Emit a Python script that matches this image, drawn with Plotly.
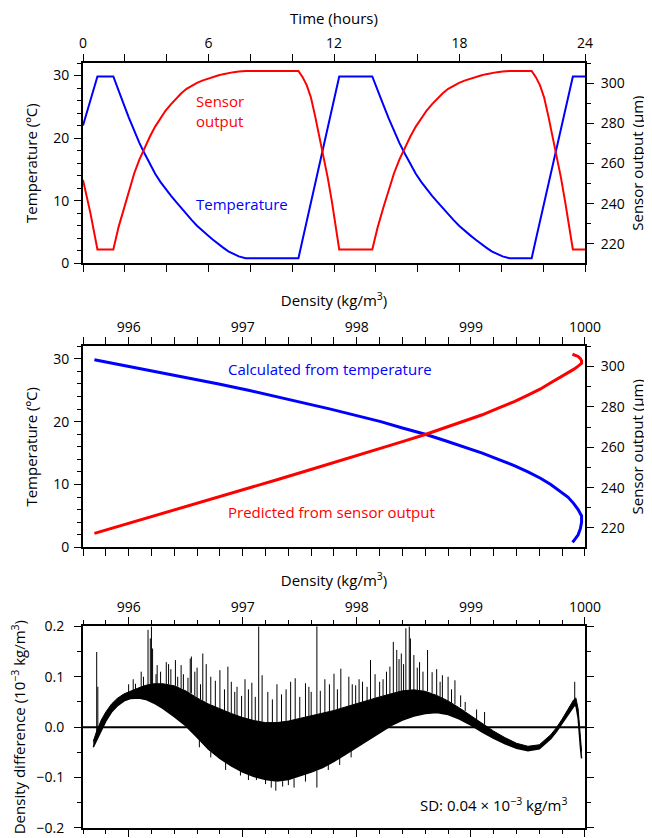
import plotly.graph_objects as go

# --- Panel 1: time series ---
time_hours = [0, 0.35, 0.69, 1.45,
              1.70, 1.95, 2.20, 2.45, 2.70, 2.95, 3.20, 3.45, 3.70, 3.95, 4.20, 4.45, 4.70,
              4.95, 5.20, 5.45, 5.70, 5.95, 6.20, 6.45, 6.70, 6.95, 7.20, 7.45, 7.77,
              10.30, 10.50, 10.70, 10.90, 11.10, 11.30, 11.50, 11.70, 11.90, 12.10, 12.25,
              13.83, 14.09, 14.35, 14.61, 14.87, 15.13, 15.39, 15.65, 15.91, 16.17, 16.43,
              16.68, 16.94, 17.20, 17.46, 17.72, 17.98, 18.24, 18.50, 18.76, 19.02, 19.28,
              19.54, 19.80, 20.06, 20.39,
              21.45, 21.65, 21.85, 22.05, 22.25, 22.45, 22.65, 22.85, 23.05, 23.25, 23.42, 24.0]

temperature_c = [22.0, 25.9, 29.85, 29.85,
                 27.5, 25.4, 23.2, 21.1, 19.2, 17.5, 15.8, 14.3, 13.0, 11.8, 10.8, 9.8, 8.8,
                 7.8, 6.9, 6.0, 5.2, 4.5, 3.8, 3.1, 2.5, 1.9, 1.5, 1.1, 0.8,
                 0.8, 3.8, 6.8, 9.7, 12.7, 15.7, 18.7, 21.7, 24.6, 27.6, 29.85,
                 29.85, 27.5, 25.4, 23.2, 21.1, 19.2, 17.5, 15.8, 14.3, 13.0, 11.8,
                 10.8, 9.8, 8.8, 7.8, 6.9, 6.0, 5.2, 4.5, 3.8, 3.1, 2.5,
                 1.9, 1.5, 1.1, 0.8,
                 0.8, 3.8, 6.8, 9.7, 12.7, 15.7, 18.7, 21.7, 24.6, 27.6, 29.85, 29.85]

sensor_um = [251.9, 235.6, 217.3, 217.3,
             228.4, 237.8, 247.1, 255.2, 262.1, 267.9, 273.5, 278.4, 282.6, 286.4, 289.5, 292.5, 295.0,
             297.2, 298.8, 300.2, 301.3, 302.2, 303.0, 303.8, 304.5, 305.1, 305.5, 305.8, 306.1,
             306.1, 303.0, 298.9, 292.8, 283.5, 273.8, 263.9, 253.0, 241.1, 227.8, 217.3,
             217.3, 228.4, 237.8, 247.1, 255.2, 262.1, 267.9, 273.5, 278.4, 282.6, 286.4,
             289.5, 292.5, 295.0, 297.2, 298.8, 300.2, 301.3, 302.2, 303.0, 303.8, 304.5,
             305.1, 305.5, 305.8, 306.1,
             306.1, 303.0, 298.9, 292.8, 283.5, 273.8, 263.9, 253.0, 241.1, 227.8, 217.3, 217.3]

# --- Panel 2: temperature / sensor output against density ---
calc_temp = [29.85, 29, 28, 27, 26, 25, 24, 23, 22, 21, 20, 19, 18, 17, 16, 15, 14, 13,
             12, 11, 10, 9, 8, 7, 6, 5, 4, 3, 2, 1, 0.8]
calc_density = [995.70, 995.94, 996.24, 996.52, 996.79, 997.05, 997.30, 997.54, 997.77,
                997.99, 998.21, 998.40, 998.60, 998.77, 998.94, 999.10, 999.24, 999.38,
                999.50, 999.61, 999.70, 999.78, 999.85, 999.90, 999.94, 999.97, 999.97,
                999.96, 999.94, 999.90, 999.89]
pred_density = [995.70, 995.94, 996.24, 996.52, 996.79, 997.05, 997.30, 997.54, 997.77,
                997.99, 998.21, 998.40, 998.60, 998.77, 998.94, 999.10, 999.24, 999.38,
                999.50, 999.61, 999.70, 999.78, 999.85, 999.90, 999.94, 999.97, 999.97,
                999.96, 999.94, 999.90, 999.89]
pred_sensor = [217.3, 221.3, 226.1, 230.6, 235.2, 239.6, 243.9, 248.0, 251.9, 255.6, 259.3,
               262.8, 266.3, 269.6, 272.8, 276.1, 279.4, 282.6, 285.8, 288.9, 292.0, 294.5,
               296.8, 298.6, 300.2, 301.6, 302.8, 303.9, 305.0, 305.9, 306.1]

# --- Panel 3: density difference band (lower / upper edge of the dense trace) ---
band_density = [995.69, 995.72, 995.76, 995.80, 995.85, 995.90, 995.96, 996.02, 996.09,
                996.15, 996.22, 996.30, 996.40, 996.50, 996.60, 996.70, 996.80, 996.90,
                997.00, 997.10, 997.20, 997.30, 997.40, 997.50, 997.60, 997.70, 997.80,
                997.90, 998.00, 998.10, 998.20, 998.30, 998.40, 998.50, 998.60, 998.70,
                998.80, 998.90, 999.00, 999.10, 999.20, 999.30, 999.40, 999.50, 999.60,
                999.70, 999.75, 999.80, 999.85, 999.90, 999.92, 999.94, 999.96, 999.97]
band_low = [-0.040, -0.026, -0.006, 0.012, 0.030, 0.042, 0.052, 0.057, 0.058,
            0.055, 0.048, 0.037, 0.021, 0.003, -0.020, -0.044, -0.062, -0.077,
            -0.089, -0.098, -0.104, -0.107, -0.104, -0.097, -0.089, -0.080, -0.068,
            -0.054, -0.040, -0.026, -0.011, 0.003, 0.014, 0.022, 0.027, 0.029,
            0.025, 0.016, 0.004, -0.010, -0.022, -0.033, -0.042, -0.047, -0.043,
            -0.023, -0.009, 0.007, 0.024, 0.041, 0.044, 0.018, -0.040, -0.062]
band_high = [-0.028, -0.008, 0.014, 0.030, 0.046, 0.057, 0.066, 0.072, 0.078,
             0.083, 0.086, 0.086, 0.082, 0.072, 0.058, 0.046, 0.036, 0.027,
             0.019, 0.013, 0.009, 0.009, 0.012, 0.017, 0.022, 0.027, 0.033,
             0.040, 0.047, 0.053, 0.060, 0.066, 0.072, 0.074, 0.071, 0.063,
             0.052, 0.038, 0.023, 0.007, -0.008, -0.021, -0.032, -0.038, -0.035,
             -0.015, -0.001, 0.016, 0.034, 0.054, 0.058, 0.036, -0.020, -0.048]

# isolated spikes sticking out of the band
spike_density = [995.72, 995.73, 996.00, 996.04, 996.06, 996.11, 996.13, 996.17, 996.19,
                 996.20, 996.21, 996.24, 996.25, 996.28, 996.33, 996.35, 996.37, 996.41,
                 996.43, 996.46, 996.48, 996.52, 996.54, 996.55, 996.58, 996.60, 996.63,
                 996.65, 996.68, 996.72, 996.76, 996.80, 996.84, 996.87, 996.90, 996.93,
                 996.95, 996.99, 997.02, 997.05, 997.08, 997.11, 997.14, 997.17, 997.22,
                 997.26, 997.30, 997.34, 997.38, 997.42, 997.46, 997.50, 997.55, 997.58,
                 997.60, 997.65, 997.68, 997.72, 997.76, 997.80, 997.83, 997.86, 997.93,
                 997.96, 997.99, 998.02, 998.05, 998.09, 998.12, 998.16, 998.20, 998.23,
                 998.26, 998.29, 998.32, 998.35, 998.37, 998.39, 998.41, 998.43, 998.46,
                 998.47, 998.50, 998.53, 998.55, 998.58, 998.62, 998.66, 998.70, 998.73,
                 998.75, 998.80, 998.83, 998.86, 998.91, 998.95, 999.05, 999.12, 999.91,
                 996.62, 996.72, 996.85, 996.98, 997.05, 997.12, 997.20, 997.25, 997.29,
                 997.35, 997.40, 997.45, 997.55, 997.65, 997.75, 997.85, 997.95]
spike_base = [-0.020, -0.010, 0.068, 0.070, 0.071, 0.076, 0.078, 0.080, 0.082,
              0.082, 0.083, 0.085, 0.085, 0.086, 0.085, 0.085, 0.084, 0.082,
              0.080, 0.077, 0.075, 0.070, 0.068, 0.067, 0.062, 0.058, 0.055,
              0.053, 0.050, 0.045, 0.040, 0.036, 0.032, 0.029, 0.027, 0.024,
              0.022, 0.019, 0.018, 0.016, 0.014, 0.013, 0.012, 0.011, 0.009,
              0.009, 0.009, 0.010, 0.011, 0.012, 0.014, 0.017, 0.019, 0.021,
              0.022, 0.024, 0.026, 0.028, 0.031, 0.033, 0.035, 0.037, 0.042,
              0.044, 0.046, 0.048, 0.050, 0.052, 0.054, 0.057, 0.060, 0.062,
              0.064, 0.065, 0.066, 0.068, 0.069, 0.071, 0.071, 0.072, 0.073,
              0.073, 0.074, 0.073, 0.073, 0.072, 0.071, 0.068, 0.063, 0.060,
              0.057, 0.052, 0.048, 0.045, 0.040, 0.032, 0.015, 0.005, 0.050,
              -0.025, -0.048, -0.070, -0.086, -0.094, -0.098, -0.104, -0.106, -0.108,
              -0.107, -0.104, -0.102, -0.093, -0.086, -0.075, -0.061, -0.047]
spike_tip = [0.149, 0.080, 0.085, 0.095, 0.086, 0.110, 0.100, 0.193, 0.176,
             0.200, 0.156, 0.105, 0.123, 0.110, 0.129, 0.125, 0.115, 0.133,
             0.100, 0.123, 0.105, 0.098, 0.136, 0.140, 0.110, 0.118, 0.085,
             0.146, 0.125, 0.100, 0.092, 0.113, 0.075, 0.120, 0.090, 0.070,
             0.080, 0.062, 0.095, 0.075, 0.088, 0.060, 0.200, 0.103, 0.070,
             0.055, 0.085, 0.065, 0.075, 0.090, 0.097, 0.060, 0.087, 0.080,
             0.070, 0.200, 0.072, 0.095, 0.085, 0.106, 0.075, 0.116, 0.100,
             0.085, 0.083, 0.095, 0.090, 0.080, 0.133, 0.105, 0.090, 0.095,
             0.110, 0.120, 0.169, 0.153, 0.135, 0.146, 0.125, 0.196, 0.200,
             0.176, 0.143, 0.118, 0.129, 0.110, 0.153, 0.109, 0.115, 0.090,
             0.103, 0.100, 0.075, 0.093, 0.063, 0.050, 0.035, 0.030, 0.090,
             -0.040, -0.060, -0.085, -0.096, -0.105, -0.105, -0.113, -0.120, -0.126,
             -0.118, -0.115, -0.120, -0.108, -0.120, -0.085, -0.075, -0.060]

BLUE = '#0000ff'
RED = '#ff0000'
FONT = 'Open Sans'

fig = go.Figure()

# panel 1
fig.add_trace(go.Scatter(x=time_hours, y=temperature_c, mode='lines',
                         line=dict(color=BLUE, width=2), xaxis='x', yaxis='y'))
fig.add_trace(go.Scatter(x=time_hours, y=sensor_um, mode='lines',
                         line=dict(color=RED, width=2), xaxis='x', yaxis='y4'))

# panel 2
fig.add_trace(go.Scatter(x=calc_density, y=calc_temp, mode='lines',
                         line=dict(color=BLUE, width=3), xaxis='x2', yaxis='y2'))
fig.add_trace(go.Scatter(x=pred_density, y=pred_sensor, mode='lines',
                         line=dict(color=RED, width=3), xaxis='x2', yaxis='y5'))

# panel 3
fig.add_trace(go.Scatter(x=band_density, y=band_low, mode='lines',
                         line=dict(color='black', width=1.5), xaxis='x3', yaxis='y3'))
fig.add_trace(go.Scatter(x=band_density, y=band_high, mode='lines', fill='tonexty',
                         fillcolor='black', line=dict(color='black', width=1),
                         xaxis='x3', yaxis='y3'))
sx, sy = [], []
for d, b, t in zip(spike_density, spike_base, spike_tip):
    sx += [d, d, None]
    sy += [b, t, None]
fig.add_trace(go.Scatter(x=sx, y=sy, mode='lines', line=dict(color='black', width=1),
                         xaxis='x3', yaxis='y3'))

frame = dict(showline=True, linecolor='black', linewidth=2, ticks='outside',
             tickcolor='black', ticklen=7, tickwidth=1, showgrid=False, zeroline=False,
             automargin=False, tickfont=dict(size=14, color='black'))
minor = lambda d, t0=0: dict(dtick=d, tick0=t0, ticks='outside', ticklen=4,
                             tickcolor='black', showgrid=False)
title_font = dict(size=15, color='black')

dens_axis = dict(frame, side='top', range=[995.6, 1000.0001], dtick=1, tick0=996,
                 mirror='allticks', minor=minor(0.2, 996))

# the page adds an 8 px body margin, so the margins here are 8 px smaller on left/top
fig.update_layout(
    width=652, height=838, autosize=False,
    margin=dict(l=75, r=75, t=55, b=18),
    paper_bgcolor='white', plot_bgcolor='white',
    font=dict(family=FONT, color='black'),
    showlegend=False,
    xaxis=dict(frame, domain=[0, 1], anchor='y', side='top', range=[0, 24], dtick=6,
               tick0=0, mirror='allticks', minor=minor(2),
               title=dict(text='Time (hours)', font=title_font, standoff=6)),
    yaxis=dict(frame, domain=[0.7382, 1], anchor='x', range=[0, 32], dtick=10,
               mirror=True, minor=minor(2), ticklabelstandoff=2,
               title=dict(text='Temperature (ºC)', font=title_font, standoff=12)),
    yaxis4=dict(frame, overlaying='y', anchor='x', side='right', range=[210.4, 310.05],
                dtick=20, tick0=0, minor=minor(10), ticklabelstandoff=4,
                title=dict(text='Sensor output (µm)', font=title_font, standoff=9)),
    xaxis2=dict(dens_axis, domain=[0, 1], anchor='y2',
                title=dict(text='Density (kg/m<sup>3</sup>)', font=title_font, standoff=6)),
    yaxis2=dict(frame, domain=[0.3669, 0.6297], anchor='x2', range=[0, 32], dtick=10,
                mirror=True, minor=minor(2), ticklabelstandoff=2,
                title=dict(text='Temperature (ºC)', font=title_font, standoff=12)),
    yaxis5=dict(frame, overlaying='y2', anchor='x2', side='right', range=[210.4, 310.05],
                dtick=20, tick0=0, minor=minor(10), ticklabelstandoff=4,
                title=dict(text='Sensor output (µm)', font=title_font, standoff=9)),
    xaxis3=dict(dens_axis, domain=[0, 1], anchor='y3',
                title=dict(text='Density (kg/m<sup>3</sup>)', font=title_font, standoff=6)),
    yaxis3=dict(frame, domain=[0, 0.2637], anchor='x3', range=[-0.2001, 0.2001],
                dtick=0.1, tick0=0, tickformat='.1f', mirror='allticks',
                minor=minor(0.05), ticklabelstandoff=7,
                title=dict(text='Density difference (10<sup>−3</sup> kg/m<sup>3</sup>)',
                           font=title_font, standoff=10)),
)

# zero line in the bottom panel
fig.add_shape(type='line', xref='x3 domain', yref='y3', x0=0, x1=1, y0=0, y1=0,
              line=dict(color='black', width=2))

ann_font = lambda c: dict(family=FONT, size=15, color=c)
fig.add_annotation(x=5.3, y=24.4, xref='x', yref='y', text='Sensor<br>output',
                   showarrow=False, xanchor='left', align='left', font=ann_font(RED))
fig.add_annotation(x=5.3, y=9.5, xref='x', yref='y', text='Temperature',
                   showarrow=False, xanchor='left', font=ann_font(BLUE))
fig.add_annotation(x=996.85, y=28.4, xref='x2', yref='y2', text='Calculated from temperature',
                   showarrow=False, xanchor='left', font=ann_font(BLUE))
fig.add_annotation(x=996.85, y=5.6, xref='x2', yref='y2', text='Predicted from sensor output',
                   showarrow=False, xanchor='left', font=ann_font(RED))
fig.add_annotation(x=999.86, y=-0.153, xref='x3', yref='y3',
                   text='SD: 0.04 × 10<sup>−3</sup> kg/m<sup>3</sup>',
                   showarrow=False, xanchor='right', font=ann_font('black'))

fig.write_html("out.html")
